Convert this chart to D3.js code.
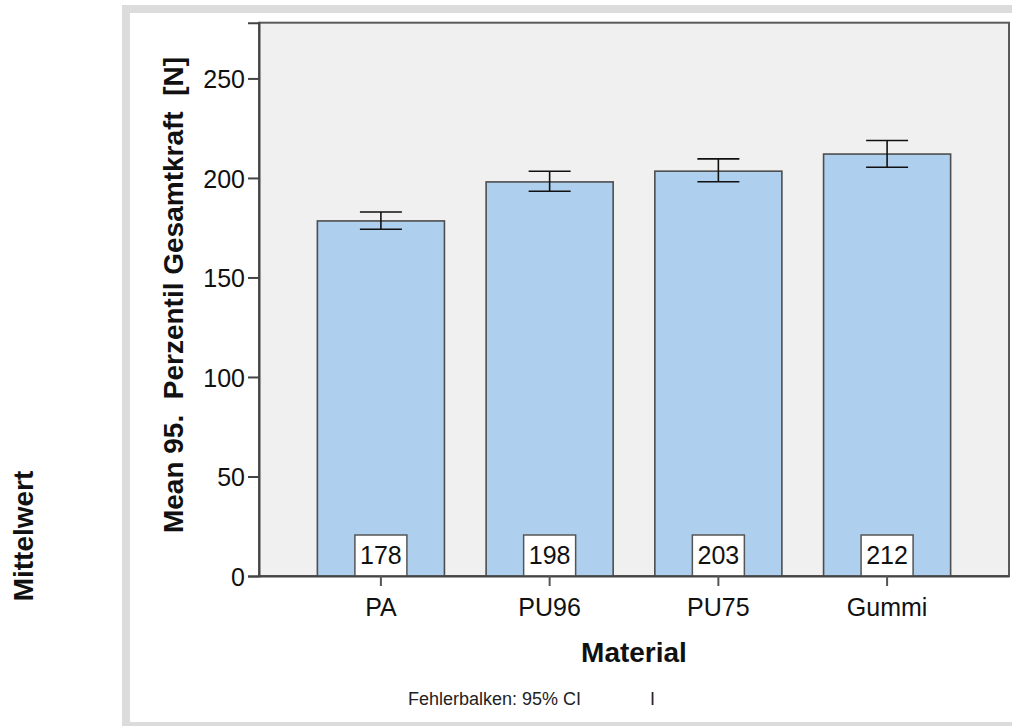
<!DOCTYPE html>
<html>
<head>
<meta charset="utf-8">
<script src="https://cdn.jsdelivr.net/npm/d3@7"></script>
<style>
  body { margin: 0; background: white; }
  text { font-family: Arial, "Liberation Sans", sans-serif; }
</style>
</head>
<body>
<div id="visualization"></div>
<script>
let w = 1012;
let h = 726;

// data
let materials = ["PA", "PU96", "PU75", "Gummi"];
let means = [178.4, 198.0, 203.4, 212.0];
let ciLow = [174.2, 193.3, 198.1, 205.4];
let ciHigh = [182.9, 203.4, 209.6, 218.8];
let yTicks = [0, 50, 100, 150, 200, 250];

let plot = {left: 259, right: 1009, top: 22.7, bottom: 576};

let viz = d3.select("#visualization")
  .append("svg")
  .attr("width", w)
  .attr("height", h);

// outer grey frame
viz.append("rect")
  .attr("x", 126).attr("y", 9)
  .attr("width", 1000).attr("height", 717)
  .attr("fill", "white")
  .attr("stroke", "#dcdcdc")
  .attr("stroke-width", 8);

let xScale = d3.scaleBand()
  .domain(materials)
  .range([plot.left, plot.right])
  .paddingInner(0.247)
  .paddingOuter(0.346);

let yScale = d3.scaleLinear()
  .domain([0, 278])
  .range([plot.bottom, plot.top]);

// plot background
viz.append("rect")
  .attr("x", plot.left).attr("y", plot.top)
  .attr("width", plot.right - plot.left)
  .attr("height", plot.bottom - plot.top)
  .attr("fill", "#f0f0f0")
  .attr("stroke", "#5a5a5a")
  .attr("stroke-width", 2);

let data = materials.map(function(m, i){
  return {name: m, mean: means[i], lo: ciLow[i], hi: ciHigh[i]};
});

// bars
viz.selectAll(".bar").data(data).enter()
  .append("rect")
  .attr("class", "bar")
  .attr("x", d => xScale(d.name))
  .attr("y", d => yScale(d.mean))
  .attr("width", xScale.bandwidth())
  .attr("height", d => yScale(0) - yScale(d.mean))
  .attr("fill", "#aecfee")
  .attr("stroke", "#4d4d4d")
  .attr("stroke-width", 1.6);

// error bars
let capW = 42;
let eb = viz.selectAll(".errbar").data(data).enter()
  .append("g").attr("class", "errbar")
  .attr("stroke", "#111")
  .attr("stroke-width", 1.6);
eb.append("line")
  .attr("x1", d => xScale(d.name) + xScale.bandwidth()/2)
  .attr("x2", d => xScale(d.name) + xScale.bandwidth()/2)
  .attr("y1", d => yScale(d.lo))
  .attr("y2", d => yScale(d.hi));
eb.append("line")
  .attr("x1", d => xScale(d.name) + xScale.bandwidth()/2 - capW/2)
  .attr("x2", d => xScale(d.name) + xScale.bandwidth()/2 + capW/2)
  .attr("y1", d => yScale(d.hi))
  .attr("y2", d => yScale(d.hi));
eb.append("line")
  .attr("x1", d => xScale(d.name) + xScale.bandwidth()/2 - capW/2)
  .attr("x2", d => xScale(d.name) + xScale.bandwidth()/2 + capW/2)
  .attr("y1", d => yScale(d.lo))
  .attr("y2", d => yScale(d.lo));

// value labels in boxes
let lab = viz.selectAll(".vlabel").data(data).enter()
  .append("g").attr("class", "vlabel");
lab.append("rect")
  .attr("x", d => xScale(d.name) + xScale.bandwidth()/2 - 26)
  .attr("y", yScale(0) - 41)
  .attr("width", 52)
  .attr("height", 41)
  .attr("fill", "white")
  .attr("stroke", "#555")
  .attr("stroke-width", 1.5);
lab.append("text")
  .attr("x", d => xScale(d.name) + xScale.bandwidth()/2)
  .attr("y", yScale(0) - 12)
  .attr("text-anchor", "middle")
  .attr("font-size", 25)
  .attr("fill", "#111")
  .text(d => Math.round(d.mean));

// y axis
let yAxisGroup = viz.append("g")
  .attr("transform", "translate(" + plot.left + ",0)");
yAxisGroup.call(d3.axisLeft(yScale).tickValues(yTicks).tickSize(11).tickPadding(3));
yAxisGroup.select(".domain").attr("stroke", "#444").attr("stroke-width", 2);
yAxisGroup.selectAll(".tick line").attr("stroke", "#444").attr("stroke-width", 2);
yAxisGroup.selectAll(".tick text")
  .attr("font-size", 25)
  .attr("font-family", "Arial, 'Liberation Sans', sans-serif")
  .attr("fill", "#111")
  .attr("dy", "0.38em");

// x axis
let xAxisGroup = viz.append("g")
  .attr("transform", "translate(0," + plot.bottom + ")");
xAxisGroup.call(d3.axisBottom(xScale).tickSize(10).tickPadding(12).tickSizeOuter(0));
xAxisGroup.select(".domain").attr("stroke", "#444").attr("stroke-width", 2);
xAxisGroup.selectAll(".tick line").attr("stroke", "#555").attr("stroke-width", 2);
xAxisGroup.selectAll(".tick text")
  .attr("font-size", 25)
  .attr("font-family", "Arial, 'Liberation Sans', sans-serif")
  .attr("fill", "#111");

// axis titles
viz.append("text")
  .attr("x", (plot.left + plot.right)/2)
  .attr("y", 662)
  .attr("text-anchor", "middle")
  .attr("font-size", 28)
  .attr("font-weight", "bold")
  .attr("fill", "#111")
  .text("Material");

viz.append("text")
  .attr("transform", "translate(183,295) rotate(-90)")
  .attr("text-anchor", "middle")
  .attr("font-size", 28)
  .attr("font-weight", "bold")
  .attr("fill", "#111")
  .style("white-space", "pre")
  .text("Mean 95.  Perzentil Gesamtkraft  [N]");

viz.append("text")
  .attr("transform", "translate(33,536) rotate(-90)")
  .attr("text-anchor", "middle")
  .attr("font-size", 28)
  .attr("font-weight", "bold")
  .attr("fill", "#111")
  .text("Mittelwert");

// footnote
viz.append("text")
  .attr("x", 408).attr("y", 705)
  .attr("font-size", 18)
  .attr("fill", "#222")
  .text("Fehlerbalken: 95% CI");
viz.append("text")
  .attr("x", 650).attr("y", 705)
  .attr("font-size", 18)
  .attr("fill", "#222")
  .text("I");
</script>
</body>
</html>
